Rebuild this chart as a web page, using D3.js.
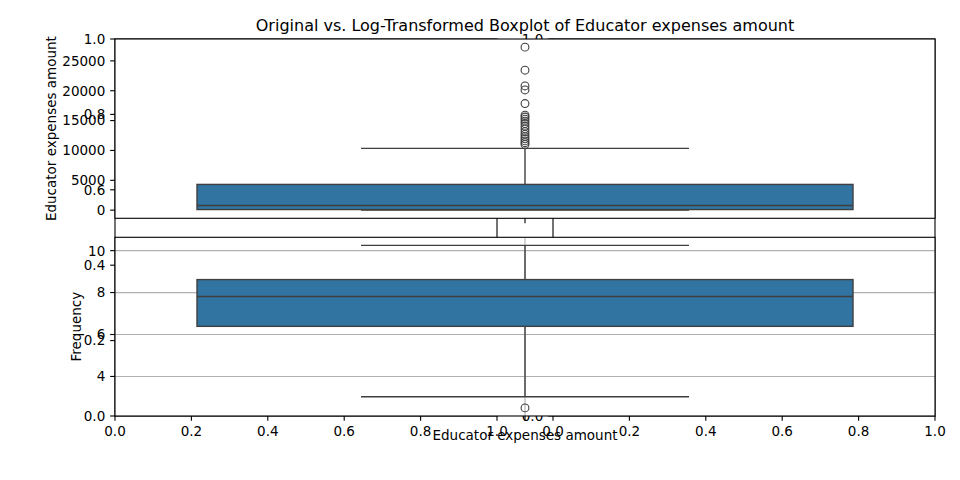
<!DOCTYPE html>
<html><head><meta charset="utf-8">
<script src="https://cdn.jsdelivr.net/npm/d3@7"></script>
<style>body{margin:0;background:#fff} text{font-family:"DejaVu Sans",sans-serif;fill:#000}</style>
</head><body><svg id="c" width="960" height="480"></svg>
<script>
// ---------- data ----------
const titleText = "Original vs. Log-Transformed Boxplot of Educator expenses amount";
const valueLabel = "Educator expenses amount";
const freqLabel = "Frequency";
const unitTicks = [0, 0.2, 0.4, 0.6, 0.8, 1.0];

const origWhiskers = [0, 10350];          // low, high
const origBox = [100, 790, 4310];         // q1, median, q3
const origOutliers = [27300, 23440, 20800, 20130, 17850, 15900, 15600, 15250, 14900, 14500,
                      14050, 13600, 13150, 12700, 12300, 11950, 11600, 11300, 11000];
const origTicks = [0, 5000, 10000, 15000, 20000, 25000];

const logWhiskers = [3.03, 10.25];
const logBox = [6.39, 7.81, 8.62];
const logOutliers = [2.5];
const logTicks = [4, 6, 8, 10];

// ---------- drawing ----------
const svg = d3.select("#c");
const FS = 13.5, TL = 4.86, SW = 1.1;
const boxFill = "#3274a1", boxLine = "#3f3f3f", gridCol = "#b0b0b0";
const fmt1 = d3.format(".1f");

function backAxes(x0, x1, y0, y1) {
  const g = svg.append("g");
  const xs = d3.scaleLinear([0, 1], [x0, x1]);
  const ys = d3.scaleLinear([0, 1], [y1, y0]);
  unitTicks.forEach(t => {
    g.append("line").attr("x1", x0 - TL).attr("x2", x0).attr("y1", ys(t)).attr("y2", ys(t))
      .attr("stroke", "#000").attr("stroke-width", SW);
    g.append("text").attr("x", x0 - 2 * TL).attr("y", ys(t)).attr("dy", "0.36em")
      .attr("text-anchor", "end").attr("font-size", FS).text(fmt1(t));
    g.append("line").attr("x1", xs(t)).attr("x2", xs(t)).attr("y1", y1).attr("y2", y1 + TL)
      .attr("stroke", "#000").attr("stroke-width", SW);
    g.append("text").attr("x", xs(t)).attr("y", y1 + 19.6)
      .attr("text-anchor", "middle").attr("font-size", FS).text(fmt1(t));
  });
  g.append("rect").attr("x", x0).attr("y", y0).attr("width", x1 - x0).attr("height", y1 - y0)
    .attr("fill", "none").attr("stroke", "#000").attr("stroke-width", SW);
}

function boxAxes(y0, y1, whiskers, box, outliers, ticks, grid) {
  const g = svg.append("g");
  const xs = d3.scaleLinear([-0.5, 0.5], [115, 935]);
  const all = whiskers.concat(outliers);
  const [mn, mx] = d3.extent(all);
  const pad = (mx - mn) * 0.05;
  const ys = d3.scaleLinear([mn - pad, mx + pad], [y1, y0]);
  g.append("rect").attr("x", 115).attr("y", y0).attr("width", 820).attr("height", y1 - y0).attr("fill", "#fff");
  if (grid) {
    ticks.forEach(t => g.append("line").attr("x1", 115).attr("x2", 935).attr("y1", ys(t)).attr("y2", ys(t))
      .attr("stroke", gridCol).attr("stroke-width", SW));
    g.append("line").attr("x1", xs(0)).attr("x2", xs(0)).attr("y1", y0).attr("y2", y1)
      .attr("stroke", gridCol).attr("stroke-width", SW);
  }
  const [q1, med, q3] = box;
  // whiskers
  g.append("line").attr("x1", xs(0)).attr("x2", xs(0)).attr("y1", ys(q3)).attr("y2", ys(whiskers[1]))
    .attr("stroke", boxLine).attr("stroke-width", 1.4);
  g.append("line").attr("x1", xs(0)).attr("x2", xs(0)).attr("y1", ys(q1)).attr("y2", ys(whiskers[0]))
    .attr("stroke", boxLine).attr("stroke-width", 1.4);
  whiskers.forEach(w => g.append("line").attr("x1", xs(-0.2)).attr("x2", xs(0.2)).attr("y1", ys(w)).attr("y2", ys(w))
    .attr("stroke", boxLine).attr("stroke-width", 1.4));
  // box
  g.append("rect").attr("x", xs(-0.4)).attr("width", xs(0.4) - xs(-0.4))
    .attr("y", ys(q3)).attr("height", ys(q1) - ys(q3))
    .attr("fill", boxFill).attr("stroke", boxLine).attr("stroke-width", 1.4);
  g.append("line").attr("x1", xs(-0.4)).attr("x2", xs(0.4)).attr("y1", ys(med)).attr("y2", ys(med))
    .attr("stroke", boxLine).attr("stroke-width", 1.4);
  // outliers
  g.selectAll("circle").data(outliers).join("circle")
    .attr("cx", xs(0)).attr("cy", d => ys(d)).attr("r", 3.9)
    .attr("fill", "none").attr("stroke", boxLine).attr("stroke-width", 1.1);
  // spines
  g.append("rect").attr("x", 115).attr("y", y0).attr("width", 820).attr("height", y1 - y0)
    .attr("fill", "none").attr("stroke", "#000").attr("stroke-width", SW);
  // y ticks
  ticks.forEach(t => {
    g.append("line").attr("x1", 115 - TL).attr("x2", 115).attr("y1", ys(t)).attr("y2", ys(t))
      .attr("stroke", "#000").attr("stroke-width", SW);
    g.append("text").attr("x", 115 - 2 * TL).attr("y", ys(t)).attr("dy", "0.36em")
      .attr("text-anchor", "end").attr("font-size", FS).text(String(t));
  });
  // x tick at category 0
  g.append("line").attr("x1", xs(0)).attr("x2", xs(0)).attr("y1", y1).attr("y2", y1 + TL)
    .attr("stroke", "#000").attr("stroke-width", SW);
  return g;
}

backAxes(115, 497, 39, 416);
backAxes(553, 935, 39, 416);

boxAxes(39, 218.3, origWhiskers, origBox, origOutliers, origTicks, false);
svg.append("text").attr("transform", "translate(55.5,128.6) rotate(-90)")
  .attr("text-anchor", "middle").attr("font-size", FS).text(valueLabel);
svg.append("text").attr("x", 525).attr("y", 31).attr("text-anchor", "middle")
  .attr("font-size", 16).text(titleText);

boxAxes(237.3, 416, logWhiskers, logBox, logOutliers, logTicks, true);
svg.append("text").attr("transform", "translate(81,326.6) rotate(-90)")
  .attr("text-anchor", "middle").attr("font-size", FS).text(freqLabel);
svg.append("text").attr("x", 525).attr("y", 440).attr("text-anchor", "middle")
  .attr("font-size", FS).text(valueLabel);
</script></body></html>
